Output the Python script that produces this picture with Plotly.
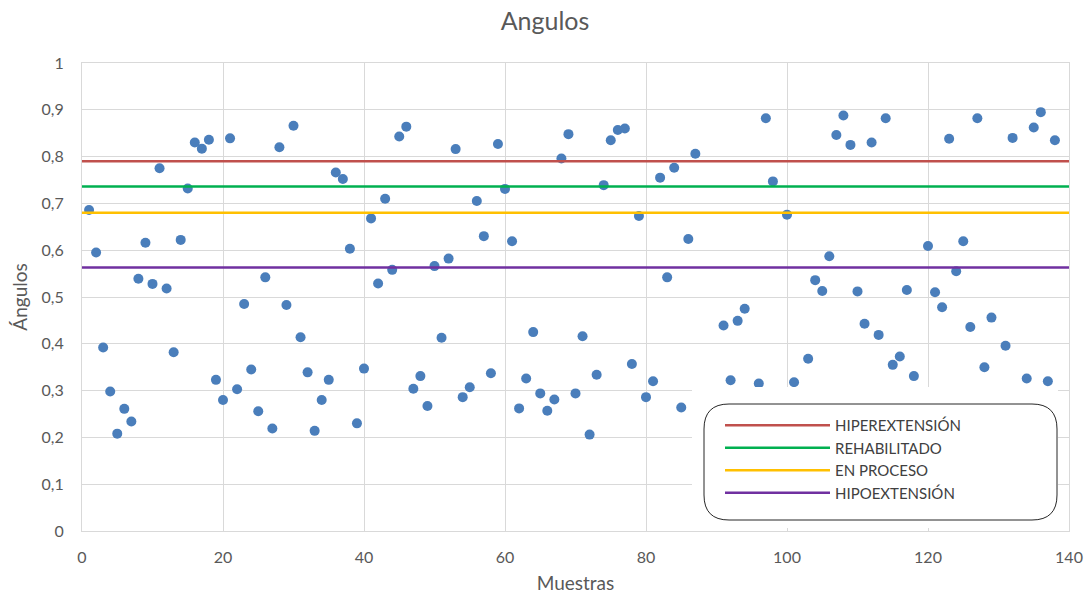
import plotly.graph_objects as go

# Sample numbers (points hidden behind the legend box are not readable and omitted)
muestras = [1, 2, 3, 4, 5, 6, 7, 8, 9, 10, 11, 12, 13, 14, 15, 16, 17, 18, 19, 20,
            21, 22, 23, 24, 25, 26, 27, 28, 29, 30, 31, 32, 33, 34, 35, 36, 37, 38, 39, 40,
            41, 42, 43, 44, 45, 46, 47, 48, 49, 50, 51, 52, 53, 54, 55, 56, 57, 58, 59, 60,
            61, 62, 63, 64, 65, 66, 67, 68, 69, 70, 71, 72, 73, 74, 75, 76, 77, 78, 79, 80,
            81, 82, 83, 84, 85, 86, 87, 91, 92, 93, 94, 96, 97, 98, 100,
            101, 103, 104, 105, 106, 107, 108, 109, 110, 111, 112, 113, 114, 115, 116, 117, 118, 120,
            121, 122, 123, 124, 125, 126, 127, 128, 129, 131, 132, 134, 135, 136, 137, 138]

angulos = [0.686, 0.595, 0.392, 0.298, 0.208, 0.261, 0.234, 0.539, 0.616, 0.528,
           0.775, 0.518, 0.382, 0.622, 0.732, 0.830, 0.817, 0.836, 0.323, 0.280,
           0.839, 0.303, 0.485, 0.345, 0.256, 0.542, 0.219, 0.820, 0.483, 0.866,
           0.414, 0.339, 0.214, 0.280, 0.323, 0.766, 0.752, 0.603, 0.230, 0.347,
           0.668, 0.529, 0.710, 0.558, 0.843, 0.864, 0.304, 0.331, 0.267, 0.566,
           0.413, 0.582, 0.816, 0.286, 0.307, 0.705, 0.630, 0.337, 0.827, 0.731,
           0.619, 0.262, 0.326, 0.425, 0.294, 0.257, 0.281, 0.796, 0.848, 0.294,
           0.416, 0.206, 0.334, 0.739, 0.835, 0.857, 0.860, 0.357, 0.673, 0.286,
           0.320, 0.755, 0.542, 0.776, 0.264, 0.624, 0.806, 0.439, 0.322, 0.449,
           0.475, 0.315, 0.882, 0.747, 0.676,
           0.318, 0.368, 0.536, 0.513, 0.587, 0.846, 0.888, 0.825, 0.512, 0.443,
           0.830, 0.419, 0.882, 0.355, 0.373, 0.515, 0.331, 0.609,
           0.510, 0.478, 0.838, 0.555, 0.619, 0.436, 0.882, 0.350, 0.456, 0.396,
           0.840, 0.326, 0.862, 0.895, 0.320, 0.835]

umbral_nombres = ["HIPEREXTENSIÓN", "REHABILITADO", "EN PROCESO", "HIPOEXTENSIÓN"]
umbral_valores = [0.790, 0.736, 0.680, 0.563]
umbral_colores = ["#C0504D", "#00B050", "#FFC000", "#7030A0"]

x_rango = [0, 140]
y_rango = [0, 1]

fig = go.Figure()

fig.add_trace(go.Scatter(
    x=muestras, y=angulos, mode="markers",
    marker=dict(color="#4A7EBB", size=10),
    showlegend=False, name="Angulos"))

for nombre, valor, color in zip(umbral_nombres, umbral_valores, umbral_colores):
    fig.add_trace(go.Scatter(
        x=x_rango, y=[valor, valor], mode="lines",
        line=dict(color=color, width=2.5),
        name=nombre, legendgroup=nombre, showlegend=True))

W, H = 1090, 595
ml, mr, mt, mb = 82, 21, 63, 64
pw, ph = W - ml - mr, H - mt - mb

def px(xp):
    return (xp - ml) / pw

def py(yp):
    return (H - mb - yp) / ph

# white area behind legend
shapes = [dict(type="rect", xref="paper", yref="paper",
               x0=px(692), x1=px(1058), y0=py(528), y1=py(387),
               fillcolor="white", line=dict(width=0), layer="above")]

# rounded legend box
x0, x1, y0, y1 = px(704), px(1057), py(520), py(404)
rx, ry = 25 / pw, 25 / ph
path = (f"M {x0+rx},{y1} L {x1-rx},{y1} Q {x1},{y1} {x1},{y1-ry} "
        f"L {x1},{y0+ry} Q {x1},{y0} {x1-rx},{y0} "
        f"L {x0+rx},{y0} Q {x0},{y0} {x0},{y0+ry} "
        f"L {x0},{y1-ry} Q {x0},{y1} {x0+rx},{y1} Z")
shapes.append(dict(type="path", xref="paper", yref="paper", path=path,
                   fillcolor="white", line=dict(color="#262626", width=1),
                   layer="above"))

fig.update_layout(
    width=W, height=H,
    margin=dict(l=ml, r=mr, t=mt, b=mb, autoexpand=False),
    paper_bgcolor="white", plot_bgcolor="white",
    separators=",.",
    font=dict(family="Lato, Liberation Sans, sans-serif", color="#595959"),
    title=dict(text="Angulos", x=0.5, xanchor="center", y=0.965, yanchor="middle",
               font=dict(size=25, color="#595959")),
    xaxis=dict(range=x_rango, dtick=20, tick0=0, showgrid=True, gridcolor="#D9D9D9",
               gridwidth=1, zeroline=False, showline=True, linecolor="#D9D9D9",
               mirror=True, ticks="", ticklabelstandoff=12, automargin=False,
               tickfont=dict(size=16, color="#595959"),
               title=dict(text="Muestras", font=dict(size=19, color="#595959"), standoff=11)),
    yaxis=dict(range=y_rango, dtick=0.1, tick0=0, showgrid=True, gridcolor="#D9D9D9",
               gridwidth=1, zeroline=False, showline=True, linecolor="#D9D9D9",
               mirror=True, ticks="", ticklabelstandoff=14, automargin=False,
               tickfont=dict(size=16, color="#595959"),
               title=dict(text="Ángulos", font=dict(size=19, color="#595959"), standoff=8)),
    legend=dict(x=px(720), y=py(409), xanchor="left", yanchor="top",
                bgcolor="rgba(0,0,0,0)", borderwidth=0,
                font=dict(size=15, color="#404040"),
                tracegroupgap=0, itemwidth=105),
    shapes=shapes,
)

fig.write_html("out.html")
